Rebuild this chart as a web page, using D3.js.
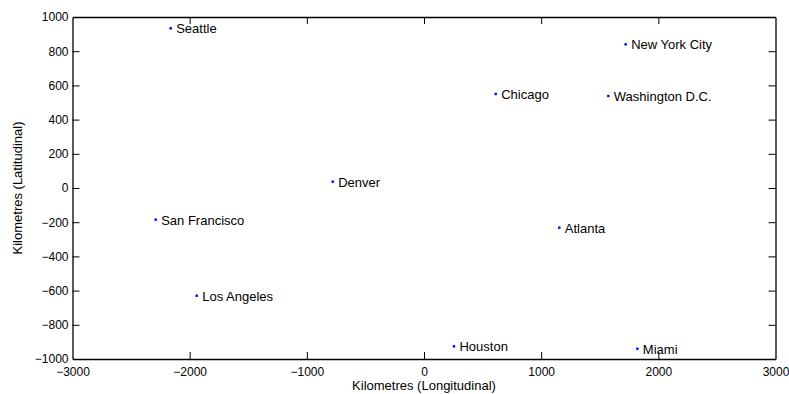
<!DOCTYPE html>
<html>
<head>
<meta charset="utf-8">
<script src="https://cdn.jsdelivr.net/npm/d3@7"></script>
<style>
  html, body { margin: 0; padding: 0; background: #fff; }
  svg { display: block; }
  text { font-family: "Liberation Sans", Arial, sans-serif; fill: #000; }
</style>
</head>
<body>
<svg id="chart" width="789" height="394"></svg>
<script>
// City positions in kilometres relative to the map centre
const cities = ["Seattle", "New York City", "Chicago", "Washington D.C.", "Denver",
                "San Francisco", "Atlanta", "Los Angeles", "Houston", "Miami"];
const xKm = [-2162, 1721, 612, 1573, -779, -2290, 1155, -1940, 256, 1821];
const yKm = [934, 840, 550, 538, 37, -185, -232, -630, -926, -940];

const xTicks = [-3000, -2000, -1000, 0, 1000, 2000, 3000];
const yTicks = [-1000, -800, -600, -400, -200, 0, 200, 400, 600, 800, 1000];

const svg = d3.select("#chart");
const plotLeft = 72.5, plotRight = 775.5, plotTop = 17, plotBottom = 359;
const fontStack = "'Liberation Sans', Arial, sans-serif";

const x = d3.scaleLinear().domain([-3000, 3000]).range([plotLeft, plotRight]);
const y = d3.scaleLinear().domain([-1000, 1000]).range([plotBottom, plotTop]);

const fmt = d => d < 0 ? "\u2212" + Math.abs(d) : String(d);
const tickLen = 7;

// Bottom axis (ticks pointing inward)
const gx = svg.append("g").attr("transform", `translate(0,${plotBottom})`)
  .call(d3.axisBottom(x).tickValues(xTicks).tickFormat(fmt).tickSizeInner(-tickLen).tickSizeOuter(0).tickPadding(8));
// Top axis mirror
const gxt = svg.append("g").attr("transform", `translate(0,${plotTop})`)
  .call(d3.axisTop(x).tickValues(xTicks).tickFormat("").tickSizeInner(-tickLen).tickSizeOuter(0));
// Left axis
const gy = svg.append("g").attr("transform", `translate(${plotLeft},0)`)
  .call(d3.axisLeft(y).tickValues(yTicks).tickFormat(fmt).tickSizeInner(-tickLen).tickSizeOuter(0).tickPadding(4));
// Right axis mirror
const gyr = svg.append("g").attr("transform", `translate(${plotRight},0)`)
  .call(d3.axisRight(y).tickValues(yTicks).tickFormat("").tickSizeInner(-tickLen).tickSizeOuter(0));

[gx, gxt, gy, gyr].forEach(g => {
  g.attr("font-family", null).attr("font-size", null);
  g.selectAll("path.domain").attr("stroke", "#000").attr("stroke-width", 1.3);
  g.selectAll(".tick line").attr("stroke", "#000").attr("stroke-width", 1);
  g.selectAll("text").style("font-family", fontStack)
    .style("font-size", "12px").attr("fill", "#000");
});
// the end ticks sit on the frame corners, so leave them out
gx.selectAll(".tick line").filter(d => d === -3000 || d === 3000).remove();
gxt.selectAll(".tick line").filter(d => d === -3000 || d === 3000).remove();
gy.selectAll(".tick line").filter(d => d === -1000 || d === 1000).remove();
gyr.selectAll(".tick line").filter(d => d === -1000 || d === 1000).remove();

// City markers and names
const pts = svg.append("g");
cities.forEach((c, i) => {
  pts.append("rect")
    .attr("x", x(xKm[i]) - 1.2).attr("y", y(yKm[i]) - 1.2)
    .attr("width", 2.4).attr("height", 2.4).attr("fill", "#0000ff");
  pts.append("text")
    .attr("x", x(xKm[i]) + 5.5).attr("y", y(yKm[i]) + 5)
    .style("font-family", fontStack).style("font-size", "13px").text(c);
});

// Axis titles
svg.append("text").attr("x", (plotLeft + plotRight) / 2).attr("y", 390)
  .attr("text-anchor", "middle").style("font-family", fontStack).style("font-size", "13px")
  .text("Kilometres (Longitudinal)");
svg.append("text").attr("transform", `translate(21.5,${(plotTop + plotBottom) / 2}) rotate(-90)`)
  .attr("text-anchor", "middle").style("font-family", fontStack).style("font-size", "13px")
  .text("Kilometres (Latitudinal)");
</script>
</body>
</html>
